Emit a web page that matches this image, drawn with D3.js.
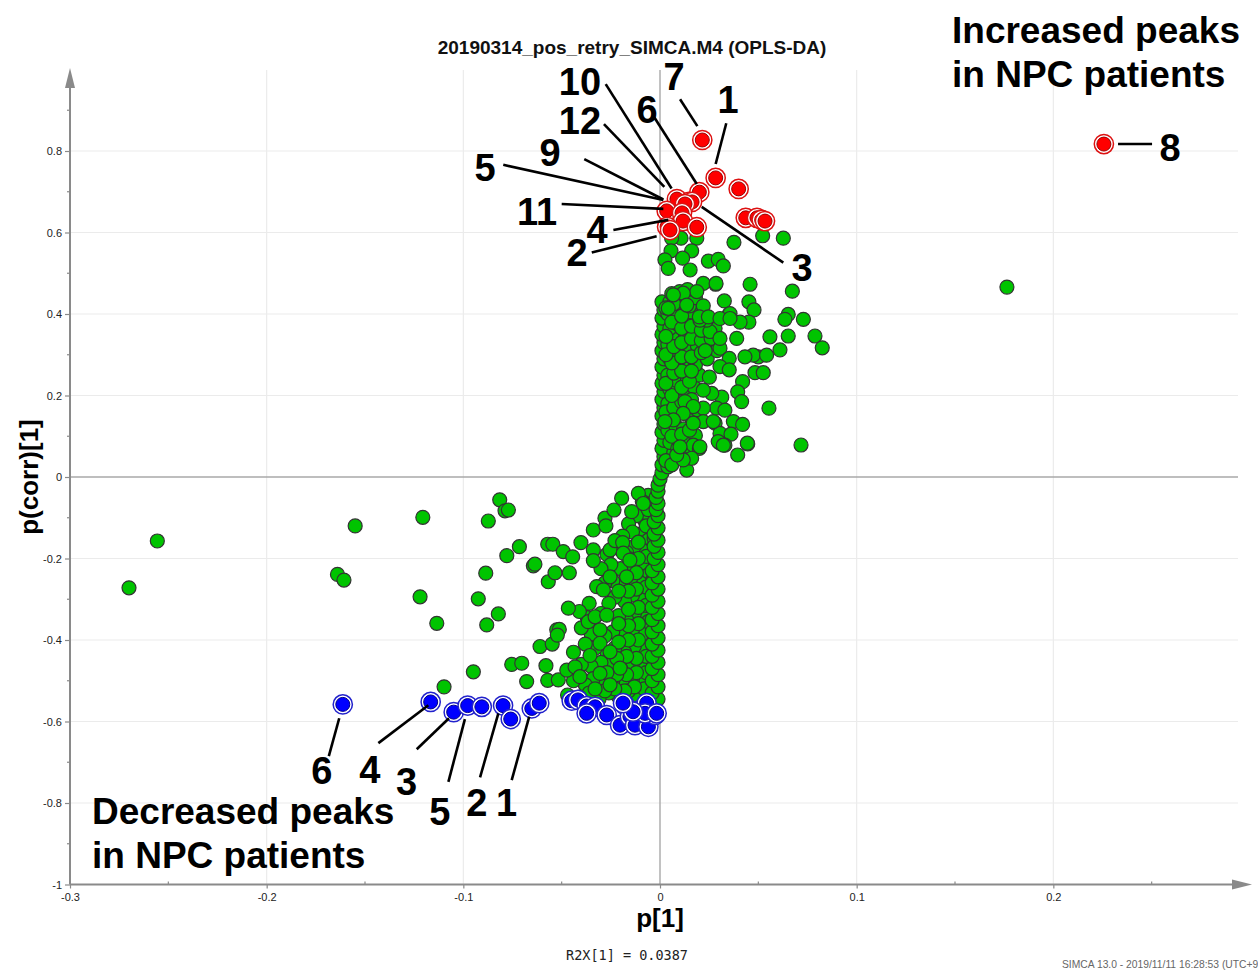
<!DOCTYPE html>
<html>
<head>
<meta charset="utf-8">
<script src="https://cdn.jsdelivr.net/npm/d3@7"></script>
<style>
html,body{margin:0;padding:0;background:#fff;}
svg{display:block;}
</style>
</head>
<body>
<svg id="chart" width="1258" height="972"></svg>
<script>
// ---------------- DATA ----------------
const chartTitle = "20190314_pos_retry_SIMCA.M4 (OPLS-DA)";
const xLabel = "p[1]";
const yLabel = "p(corr)[1]";
const r2xText = "R2X[1] = 0.0387";
const footerText = "SIMCA 13.0 - 2019/11/11 16:28:53 (UTC+9";

const xMajorTicks = [-0.3, -0.2, -0.1, 0, 0.1, 0.2];
const xMajorLabels = ["-0.3", "-0.2", "-0.1", "0", "0.1", "0.2"];
const xMinorTicks = [-0.25, -0.15, -0.05, 0.05, 0.15, 0.25];
const yMajorTicks = [-1, -0.8, -0.6, -0.4, -0.2, 0, 0.2, 0.4, 0.6, 0.8];
const yMajorLabels = ["-1", "-0.8", "-0.6", "-0.4", "-0.2", "0", "0.2", "0.4", "0.6", "0.8"];
const yMinorTicks = [-0.9, -0.7, -0.5, -0.3, -0.1, 0.1, 0.3, 0.5, 0.7, 0.9];

// Red: increased peaks
const redPoints = [
  [0.0215, 0.827], [0.0283, 0.734], [0.040, 0.707], [0.020, 0.699],
  [0.0086, 0.682], [0.0147, 0.675], [0.0163, 0.675], [0.0127, 0.670],
  [0.0034, 0.653], [0.0112, 0.648], [0.0117, 0.628], [0.0036, 0.614],
  [0.0051, 0.606], [0.0187, 0.613], [0.0436, 0.636], [0.0493, 0.636],
  [0.0517, 0.631], [0.0534, 0.628], [0.2257, 0.817]
];

// Blue: decreased peaks
const bluePoints = [
  [-0.1613, -0.558], [-0.1166, -0.552], [-0.1049, -0.577], [-0.0978, -0.561],
  [-0.0906, -0.564], [-0.0798, -0.561], [-0.0759, -0.594], [-0.0652, -0.568],
  [-0.0614, -0.555], [-0.0449, -0.549], [-0.0417, -0.547], [-0.0373, -0.562],
  [-0.033, -0.564], [-0.0373, -0.580], [-0.0271, -0.584], [-0.0203, -0.609],
  [-0.0178, -0.560], [-0.0153, -0.588], [-0.0127, -0.609], [-0.0102, -0.572],
  [-0.0068, -0.555], [-0.0059, -0.613], [-0.0025, -0.584], [-0.0076, -0.580],
  [-0.0137, -0.576], [-0.0188, -0.555], [-0.0017, -0.580]
];

// Green: scattered variables
const greenScatter = [
  [-0.270,-0.272],[-0.2556,-0.157],[-0.155,-0.120],[-0.164,-0.239],[-0.1607,-0.253],
  [-0.1206,-0.099],[-0.122,-0.294],[-0.1135,-0.359],[-0.1098,-0.515],[-0.0949,-0.478],
  [-0.0924,-0.299],[-0.0886,-0.236],[-0.0881,-0.363],[-0.0873,-0.108],[-0.0822,-0.336],
  [-0.0815,-0.056],[-0.0788,-0.083],[-0.0771,-0.081],[-0.0779,-0.193],[-0.0715,-0.171],
  [-0.0754,-0.460],[-0.0703,-0.457],[-0.0678,-0.502],[-0.0644,-0.218],[-0.0636,-0.214],
  [-0.061,-0.416],[-0.058,-0.463],[-0.0571,-0.499],[-0.0571,-0.165],[-0.0545,-0.165],
  [-0.0568,-0.257],[-0.0534,-0.235],[-0.0548,-0.410],[-0.0525,-0.375],[-0.0517,-0.498],
  [-0.0512,-0.374],[-0.0522,-0.388],[-0.0492,-0.183],[-0.0474,-0.474],[-0.0466,-0.322],
  [-0.0461,-0.235],[-0.0444,-0.196],[-0.0432,-0.466],[-0.0407,-0.490],[-0.0402,-0.161],
  [-0.0339,-0.130],[-0.0339,-0.179],[-0.0339,-0.205],[-0.0365,-0.355],[-0.0356,-0.438],
  [-0.033,-0.343],[-0.0322,-0.269],[-0.0288,-0.277],[-0.0305,-0.375],[-0.0305,-0.408],
  [-0.0305,-0.482],[-0.028,-0.101],[-0.0275,-0.120],[-0.0271,-0.339],[-0.0254,-0.179],
  [-0.0254,-0.245],[-0.0254,-0.429],[-0.0254,-0.510],[-0.0234,-0.081],[-0.0229,-0.156],
  [-0.0203,-0.469],[-0.0195,-0.052],[-0.019,-0.161],[-0.0187,-0.187],[-0.0153,-0.204],
  [-0.0144,-0.085],[-0.011,-0.040],[-0.0085,-0.065],
  [0.1764,0.466],[0.0717,0.0785],[0.0554,0.169],[0.0283,0.473],[0.0458,0.473],
  [0.0673,0.456],[0.0327,0.432],[0.0452,0.430],[0.0478,0.410],[0.0652,0.399],
  [0.0635,0.387],[0.0729,0.387],[0.0351,0.399],[0.0452,0.380],[0.0407,0.380],
  [0.0559,0.344],[0.0652,0.346],[0.0788,0.346],[0.0825,0.317],[0.061,0.312],
  [0.050,0.295],[0.0474,0.299],[0.0542,0.299],[0.0432,0.295],[0.039,0.340],
  [0.0305,0.316],[0.0254,0.357],[0.0305,0.340],[0.0352,0.291],[0.0305,0.271],
  [0.0352,0.263],[0.0483,0.256],[0.0525,0.256],[0.042,0.234],[0.0395,0.209],
  [0.0415,0.185],[0.0314,0.196],[0.0251,0.245],[0.0288,0.169],[0.033,0.164],
  [0.022,0.169],[0.0373,0.136],[0.042,0.129],[0.028,0.132],[0.022,0.136],
  [0.0169,0.132],[0.0305,0.107],[0.0361,0.105],[0.0446,0.081],[0.0305,0.083],
  [0.033,0.078],[0.0395,0.054],[0.0169,0.078],[0.020,0.070],[0.0136,0.042],
  [0.0136,0.017],[0.022,0.475],[0.0187,0.455],[0.0118,0.451],[0.0068,0.447],
  [0.0237,0.385],[0.0203,0.385],[0.0263,0.205],[0.022,0.213],[0.0271,0.136],
  [0.0203,0.074],[0.0161,0.046],[0.0118,0.042],[0.0085,0.054],[0.0102,0.074],
  [0.0127,0.185],[0.0169,0.173],[0.0118,0.156],[0.0068,0.140],[0.0025,0.136],
  [0.0296,0.087],[0.0322,0.078],[0.0444,0.083],
  [0.0522,0.592],[0.0627,0.586],[0.0376,0.576],[0.0107,0.586],[0.0059,0.586],
  [0.0187,0.586],[0.0161,0.555],[0.0056,0.555],[0.0115,0.537],[0.0025,0.533],
  [0.0042,0.512],[0.0153,0.508],[0.0246,0.530],[0.0296,0.534],[0.0322,0.518],
  [0.0285,0.475],[0.0136,0.422],[0.0042,0.414],[0.020,0.393],[0.0246,0.393],
  [0.0356,0.401],[0.0305,0.389],[0.0356,0.389]
];

// Green: dense band above zero
const greenUpper = [
  [0.004,0.025],[0.007,0.06],[0.011,0.052],[0.005,0.085],[0.009,0.095],[0.014,0.088],
  [0.018,0.102],[0.004,0.115],[0.008,0.125],[0.012,0.118],[0.016,0.145],[0.005,0.148],
  [0.010,0.160],[0.014,0.172],[0.019,0.165],[0.004,0.180],[0.008,0.195],[0.013,0.205],
  [0.017,0.222],[0.005,0.215],[0.009,0.235],[0.014,0.240],[0.020,0.250],[0.004,0.250],
  [0.008,0.270],[0.013,0.280],[0.018,0.275],[0.024,0.290],[0.005,0.290],[0.009,0.305],
  [0.014,0.310],[0.019,0.322],[0.025,0.330],[0.029,0.310],[0.004,0.325],[0.008,0.340],
  [0.013,0.350],[0.018,0.360],[0.023,0.350],[0.028,0.365],[0.005,0.365],[0.009,0.375],
  [0.014,0.385],[0.019,0.375],[0.004,0.400],[0.008,0.410],[0.012,0.420],[0.016,0.405],
  [0.005,0.430],[0.009,0.440],[0.013,0.445],[0.006,0.450],
  [0.003,0.040],[0.006,0.030],[0.009,0.070],[0.012,0.065],[0.006,0.100],[0.011,0.105],
  [0.015,0.115],[0.003,0.160],[0.007,0.170],[0.011,0.185],[0.016,0.190],[0.006,0.200],
  [0.011,0.220],[0.015,0.235],[0.003,0.230],[0.007,0.255],[0.011,0.260],[0.016,0.260],
  [0.006,0.280],[0.011,0.295],[0.016,0.295],[0.021,0.305],[0.003,0.300],[0.007,0.320],
  [0.011,0.330],[0.016,0.340],[0.021,0.335],[0.003,0.345],[0.006,0.380],[0.011,0.365],
  [0.016,0.370],[0.021,0.360],[0.011,0.395],[0.015,0.420],[0.007,0.425],[0.003,0.415],
  [0.018,0.440],[0.010,0.455],[0.014,0.460],[0.022,0.420],[0.026,0.340],[0.023,0.310]
];

// Green: dense wedge below zero
const greenLower = [
  [-0.006,-0.045],[-0.009,-0.060],[-0.004,-0.090],[-0.008,-0.105],[-0.012,-0.095],[-0.016,-0.115],
  [-0.005,-0.130],[-0.010,-0.140],[-0.014,-0.135],[-0.019,-0.145],[-0.006,-0.155],
  [-0.004,-0.175],[-0.009,-0.180],[-0.013,-0.170],[-0.017,-0.185],[-0.021,-0.175],[-0.027,-0.190],
  [-0.005,-0.205],[-0.009,-0.220],[-0.014,-0.215],[-0.020,-0.225],[-0.025,-0.215],[-0.030,-0.225],[-0.006,-0.240],
  [-0.004,-0.255],[-0.010,-0.260],[-0.015,-0.250],[-0.019,-0.265],[-0.024,-0.255],[-0.028,-0.260],
  [-0.005,-0.285],[-0.009,-0.300],[-0.014,-0.290],[-0.018,-0.305],[-0.023,-0.295],[-0.026,-0.310],[-0.036,-0.310],
  [-0.004,-0.330],[-0.008,-0.345],[-0.013,-0.335],[-0.017,-0.350],[-0.021,-0.340],[-0.030,-0.335],[-0.037,-0.345],[-0.041,-0.330],
  [-0.005,-0.370],[-0.009,-0.385],[-0.014,-0.375],[-0.019,-0.390],[-0.024,-0.380],[-0.028,-0.390],[-0.035,-0.385],[-0.040,-0.370],
  [-0.004,-0.410],[-0.008,-0.425],[-0.013,-0.415],[-0.018,-0.430],[-0.023,-0.420],[-0.027,-0.430],[-0.033,-0.420],[-0.038,-0.410],[-0.044,-0.430],
  [-0.005,-0.450],[-0.010,-0.465],[-0.015,-0.455],[-0.020,-0.470],[-0.025,-0.460],[-0.030,-0.455],[-0.035,-0.465],[-0.040,-0.460],
  [-0.004,-0.490],[-0.009,-0.505],[-0.014,-0.495],[-0.019,-0.510],[-0.024,-0.500],[-0.029,-0.505],[-0.034,-0.495],[-0.038,-0.510],[-0.044,-0.500],
  [-0.006,-0.530],[-0.011,-0.540],[-0.016,-0.525],[-0.021,-0.540],[-0.026,-0.530],[-0.031,-0.545],[-0.036,-0.530],[-0.041,-0.540],[-0.047,-0.535],
  [-0.003,-0.060],[-0.006,-0.080],[-0.003,-0.150],[-0.007,-0.120],[-0.011,-0.160],[-0.007,-0.195],
  [-0.011,-0.200],[-0.016,-0.200],[-0.003,-0.225],[-0.012,-0.235],[-0.017,-0.245],[-0.007,-0.270],
  [-0.012,-0.275],[-0.016,-0.280],[-0.021,-0.280],[-0.003,-0.310],[-0.007,-0.315],[-0.011,-0.320],
  [-0.016,-0.325],[-0.006,-0.355],[-0.011,-0.360],[-0.016,-0.365],[-0.021,-0.360],[-0.003,-0.390],
  [-0.011,-0.400],[-0.016,-0.400],[-0.021,-0.405],[-0.007,-0.440],[-0.012,-0.445],[-0.017,-0.440],
  [-0.022,-0.445],[-0.003,-0.470],[-0.007,-0.480],[-0.012,-0.480],[-0.017,-0.485],[-0.022,-0.485],
  [-0.027,-0.480],[-0.003,-0.520],[-0.008,-0.520],[-0.013,-0.515],[-0.018,-0.525],[-0.023,-0.520],
  [-0.028,-0.525],[-0.033,-0.520]
];

// Green: column hugging p[1] = 0
const greenColumn = [
  [-0.001,-0.545],[-0.004,-0.530],[-0.001,-0.515],[-0.004,-0.500],[-0.001,-0.485],[-0.004,-0.470],
  [-0.001,-0.455],[-0.004,-0.440],[-0.001,-0.425],[-0.004,-0.410],[-0.001,-0.395],[-0.004,-0.380],
  [-0.001,-0.365],[-0.004,-0.350],[-0.001,-0.335],[-0.004,-0.320],[-0.001,-0.305],[-0.004,-0.290],
  [-0.001,-0.275],[-0.004,-0.260],[-0.001,-0.245],[-0.004,-0.230],[-0.001,-0.215],[-0.003,-0.200],
  [-0.001,-0.185],[-0.003,-0.170],[-0.001,-0.155],[-0.003,-0.140],[-0.001,-0.125],[-0.003,-0.110],
  [-0.001,-0.095],[-0.002,-0.080],[-0.001,-0.065],[-0.002,-0.050],[-0.001,-0.035],[-0.001,-0.020],
  [0.000,-0.005],
  [0.001,0.010],[0.001,0.030],[0.002,0.050],[0.001,0.070],[0.002,0.090],[0.001,0.110],
  [0.002,0.130],[0.001,0.150],[0.002,0.170],[0.001,0.190],[0.002,0.210],[0.001,0.230],
  [0.002,0.250],[0.001,0.270],[0.002,0.290],[0.001,0.310],[0.002,0.330],[0.001,0.350],
  [0.002,0.370],[0.001,0.390],[0.002,0.410],[0.001,0.430]
];

// Annotations (data coordinates): label text, label position, leader line from -> to
const redLabels = [
  {t:"7",  lx:0.0071,  ly:0.982, x1:0.0102,  y1:0.927, x2:0.0190, y2:0.861},
  {t:"1",  lx:0.0346,  ly:0.924, x1:0.0337,  y1:0.868, x2:0.0283, y2:0.768},
  {t:"10", lx:-0.0407, ly:0.970, x1:-0.0276, y1:0.964, x2:0.0059, y2:0.708},
  {t:"6",  lx:-0.0066, ly:0.901, x1:-0.0031, y1:0.884, x2:0.0187, y2:0.719},
  {t:"12", lx:-0.0407, ly:0.873, x1:-0.0285, y1:0.866, x2:0.0022, y2:0.712},
  {t:"9",  lx:-0.0559, ly:0.795, x1:-0.0385, y1:0.780, x2:0.0017, y2:0.681},
  {t:"5",  lx:-0.0890, ly:0.758, x1:-0.0797, y1:0.766, x2:0.0017, y2:0.680},
  {t:"11", lx:-0.0625, ly:0.650, x1:-0.0500, y1:0.670, x2:0.0017, y2:0.658},
  {t:"4",  lx:-0.0320, ly:0.606, x1:-0.0237, y1:0.606, x2:0.0042, y2:0.631},
  {t:"2",  lx:-0.0422, ly:0.550, x1:-0.0347, y1:0.551, x2:-0.0017, y2:0.591},
  {t:"3",  lx:0.0722,  ly:0.513, x1:0.0627,  y1:0.526, x2:0.0212, y2:0.663},
  {t:"8",  lx:0.2593,  ly:0.807, x1:0.2329,  y1:0.817, x2:0.2502, y2:0.817}
];
const blueLabels = [
  {t:"6", lx:-0.1720, ly:-0.722, x1:-0.1631, y1:-0.592, x2:-0.1684, y2:-0.685},
  {t:"4", lx:-0.1475, ly:-0.720, x1:-0.1178, y1:-0.560, x2:-0.1432, y2:-0.653},
  {t:"3", lx:-0.1288, ly:-0.748, x1:-0.1073, y1:-0.592, x2:-0.1237, y2:-0.668},
  {t:"5", lx:-0.1119, ly:-0.821, x1:-0.0992, y1:-0.594, x2:-0.1076, y2:-0.748},
  {t:"2", lx:-0.0932, ly:-0.801, x1:-0.0822, y1:-0.580, x2:-0.0915, y2:-0.737},
  {t:"1", lx:-0.0780, ly:-0.801, x1:-0.0665, y1:-0.588, x2:-0.0754, y2:-0.744}
];
const increasedText = ["Increased peaks", "in NPC patients"];
const decreasedText = ["Decreased peaks", "in NPC patients"];

// ---------------- DRAW ----------------
const svg = d3.select("#chart");
const FONT = "'Liberation Sans', Arial, Helvetica, sans-serif";

const x = d3.scaleLinear().domain([-0.3, 0.3]).range([70, 1250]);
const y = d3.scaleLinear().domain([-1, 1]).range([884.5, 69.5]);

const plotTop = 70, plotBottom = y(-1), plotLeft = x(-0.3), plotRight = 1238;

// grid
const grid = svg.append("g");
grid.selectAll("line.vg").data(xMajorTicks.filter(d => d !== 0 && d !== -0.3)).join("line")
  .attr("x1", d => x(d)).attr("x2", d => x(d))
  .attr("y1", plotTop).attr("y2", plotBottom)
  .attr("stroke", "#ebebeb").attr("stroke-width", 1.2);
grid.selectAll("line.hg").data(yMajorTicks.filter(d => d !== 0 && d !== -1)).join("line")
  .attr("x1", plotLeft).attr("x2", plotRight)
  .attr("y1", d => y(d)).attr("y2", d => y(d))
  .attr("stroke", "#ebebeb").attr("stroke-width", 1.2);

// zero lines
svg.append("line").attr("x1", x(0)).attr("x2", x(0)).attr("y1", plotTop).attr("y2", plotBottom)
  .attr("stroke", "#a8a8a8").attr("stroke-width", 1.4);
svg.append("line").attr("x1", plotLeft).attr("x2", plotRight).attr("y1", y(0)).attr("y2", y(0))
  .attr("stroke", "#a8a8a8").attr("stroke-width", 1.4);

// axes
const axisColor = "#8a8a8a";
const xAxis = d3.axisBottom(x).tickValues(xMajorTicks).tickSize(4).tickPadding(5)
  .tickFormat((d, i) => xMajorLabels[i]);
const gx = svg.append("g").attr("transform", `translate(0,${plotBottom})`).call(xAxis);
gx.select(".domain").remove();
gx.selectAll(".tick line").attr("stroke", axisColor).attr("stroke-width", 1.2);
gx.selectAll(".tick text").attr("font-family", FONT).attr("font-size", 11).attr("fill", "#222");
svg.append("g").selectAll("line").data(xMinorTicks).join("line")
  .attr("x1", d => x(d)).attr("x2", d => x(d))
  .attr("y1", plotBottom - 3).attr("y2", plotBottom)
  .attr("stroke", axisColor).attr("stroke-width", 1.2);

const yAxis = d3.axisLeft(y).tickValues(yMajorTicks).tickSize(5).tickPadding(3)
  .tickFormat((d, i) => yMajorLabels[i]);
const gy = svg.append("g").attr("transform", `translate(${plotLeft},0)`).call(yAxis);
gy.select(".domain").remove();
gy.selectAll(".tick line").attr("stroke", axisColor).attr("stroke-width", 1.2);
gy.selectAll(".tick text").attr("font-family", FONT).attr("font-size", 11).attr("fill", "#222");
svg.append("g").selectAll("line").data(yMinorTicks).join("line")
  .attr("x1", plotLeft - 3).attr("x2", plotLeft)
  .attr("y1", d => y(d)).attr("y2", d => y(d))
  .attr("stroke", axisColor).attr("stroke-width", 1.2);

// axis lines with arrows
svg.append("line").attr("x1", plotLeft).attr("x2", plotLeft).attr("y1", plotBottom).attr("y2", 84)
  .attr("stroke", axisColor).attr("stroke-width", 2);
svg.append("path").attr("d", `M${plotLeft},68 L${plotLeft-5},88 L${plotLeft+5},88 Z`).attr("fill", axisColor);
svg.append("line").attr("x1", plotLeft).attr("x2", 1236).attr("y1", plotBottom).attr("y2", plotBottom)
  .attr("stroke", axisColor).attr("stroke-width", 2);
svg.append("path").attr("d", `M1252,${plotBottom} L1232,${plotBottom-5} L1232,${plotBottom+5} Z`).attr("fill", axisColor);

// points
const R = 7;
const greens = greenLower.concat(greenColumn, greenUpper, greenScatter);
svg.append("g").selectAll("circle").data(greens).join("circle")
  .attr("cx", d => x(d[0])).attr("cy", d => y(d[1])).attr("r", R)
  .attr("fill", "#00c400").attr("stroke", "#333").attr("stroke-width", 1.2);

function ringed(data, fill, ring, edge) {
  const g = svg.append("g").selectAll("g").data(data).join("g");
  g.append("circle").attr("cx", d => x(d[0])).attr("cy", d => y(d[1])).attr("r", R + 2.6)
    .attr("fill", "#fff").attr("stroke", ring).attr("stroke-width", 1.5);
  g.append("circle").attr("cx", d => x(d[0])).attr("cy", d => y(d[1])).attr("r", R)
    .attr("fill", fill).attr("stroke", edge).attr("stroke-width", 1);
}
ringed(bluePoints, "#0000ff", "#2222cc", "#000088");
ringed(redPoints, "#ff0000", "#dd1111", "#990000");

// annotations
function annotate(list) {
  const g = svg.append("g");
  g.selectAll("line").data(list).join("line")
    .attr("x1", d => x(d.x1)).attr("y1", d => y(d.y1))
    .attr("x2", d => x(d.x2)).attr("y2", d => y(d.y2))
    .attr("stroke", "#000").attr("stroke-width", 2.6);
  g.selectAll("text").data(list).join("text")
    .attr("x", d => x(d.lx)).attr("y", d => y(d.ly))
    .attr("text-anchor", "middle").attr("dominant-baseline", "central")
    .attr("font-family", FONT).attr("font-weight", "bold").attr("font-size", 38)
    .attr("fill", "#000").text(d => d.t);
}
annotate(redLabels);
annotate(blueLabels);

// big texts
svg.append("g").selectAll("text").data(increasedText).join("text")
  .attr("x", 952).attr("y", (d, i) => 43 + i * 44)
  .attr("font-family", FONT).attr("font-weight", "bold").attr("font-size", 37)
  .attr("fill", "#000").text(d => d);
svg.append("g").selectAll("text").data(decreasedText).join("text")
  .attr("x", 92).attr("y", (d, i) => 824 + i * 44)
  .attr("font-family", FONT).attr("font-weight", "bold").attr("font-size", 37)
  .attr("fill", "#000").text(d => d);

// title
svg.append("text").attr("x", 632).attr("y", 54).attr("text-anchor", "middle")
  .attr("font-family", FONT).attr("font-weight", "bold").attr("font-size", 19)
  .attr("fill", "#111").text(chartTitle);

// axis titles
svg.append("text").attr("x", x(0)).attr("y", 927).attr("text-anchor", "middle")
  .attr("font-family", FONT).attr("font-weight", "bold").attr("font-size", 26)
  .attr("fill", "#000").text(xLabel);
svg.append("text").attr("transform", `translate(38,${y(0)}) rotate(-90)`).attr("text-anchor", "middle")
  .attr("font-family", FONT).attr("font-weight", "bold").attr("font-size", 26)
  .attr("fill", "#000").text(yLabel);

svg.append("text").attr("x", 627).attr("y", 960).attr("text-anchor", "middle")
  .attr("font-family", "'DejaVu Sans Mono', 'Liberation Mono', monospace").attr("font-size", 13.5)
  .attr("fill", "#222").text(r2xText);
svg.append("text").attr("x", 1062).attr("y", 968)
  .attr("font-family", FONT).attr("font-size", 10.3)
  .attr("fill", "#666").text(footerText);
</script>
</body>
</html>
